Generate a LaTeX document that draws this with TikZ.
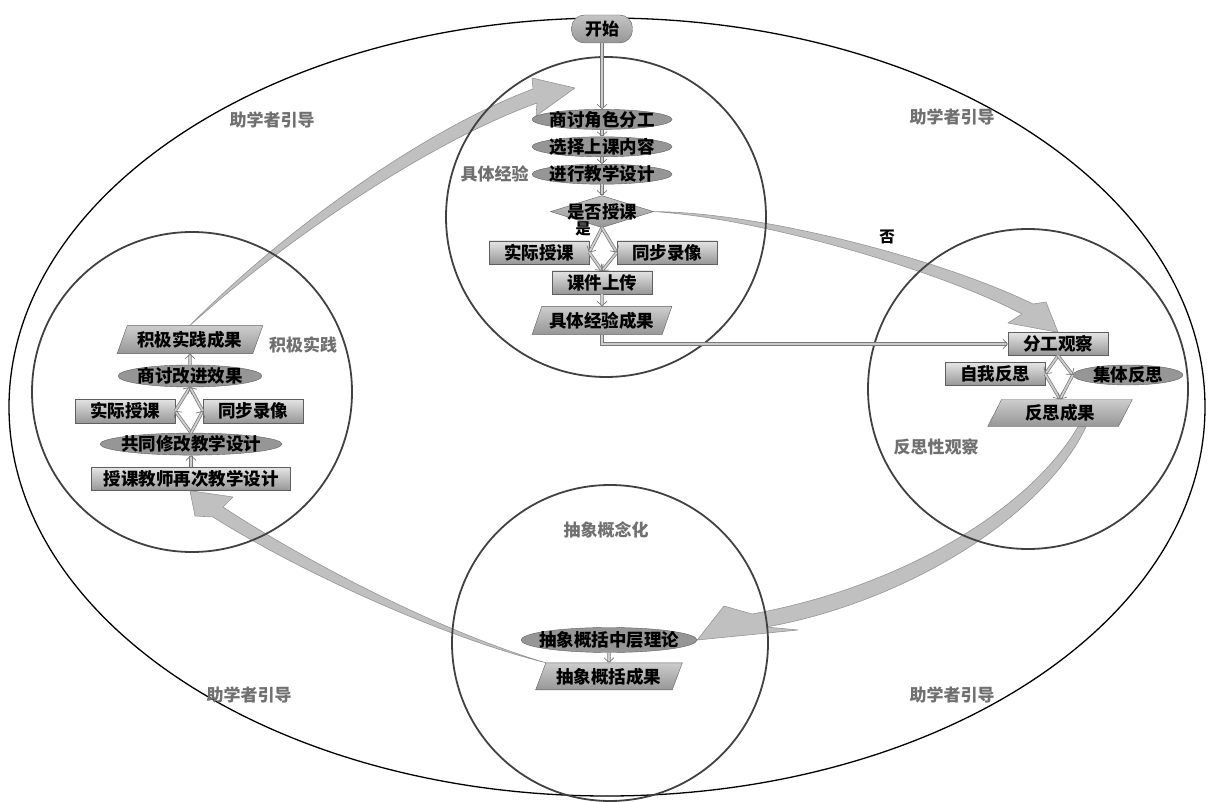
\documentclass[tikz,border=0pt]{standalone}
\usepackage{fontspec}
\setmainfont{Noto Sans CJK SC}
\usepackage{tikz}
\usetikzlibrary{shapes.geometric,arrows.meta,positioning,calc,backgrounds}
\usepackage{xcolor}
\definecolor{ringgray}{RGB}{65,65,65}
\definecolor{boxline}{RGB}{95,95,95}
\definecolor{boxtop}{RGB}{228,228,228}
\definecolor{boxbottom}{RGB}{150,150,150}
\definecolor{ovalgray}{RGB}{150,150,150}
\definecolor{arrowgray}{RGB}{192,192,192}
\definecolor{arrowline}{RGB}{150,150,150}
\definecolor{labelgray}{RGB}{112,112,112}
\definecolor{linkline}{RGB}{120,120,120}
\definecolor{linkfill}{RGB}{205,205,205}
\tikzstyle{flowbox} = [rectangle, draw=boxline, top color=boxtop, bottom color=boxbottom, minimum width=100pt, minimum height=23pt, inner sep=0pt, font=\bfseries\fontsize{17.5}{18}\selectfont]
\tikzstyle{ovalbox} = [ellipse, draw=boxline, fill=ovalgray, minimum width=140pt, minimum height=20pt, inner xsep=-15pt, inner ysep=-5pt, font=\bfseries\fontsize{17.5}{18}\selectfont]
\tikzstyle{databox} = [trapezium, trapezium left angle=63, trapezium right angle=117, trapezium stretches=true, draw=boxline, top color=boxtop!70!boxbottom, bottom color=boxbottom, minimum width=140pt, minimum height=28pt, inner xsep=2pt, inner ysep=0pt, font=\bfseries\fontsize{17.5}{18}\selectfont]
\tikzstyle{decidebox} = [diamond, aspect=3.2, draw=boxline, top color=boxtop!60!boxbottom, bottom color=boxbottom, minimum width=103pt, minimum height=32pt, inner xsep=-8pt, inner ysep=-6pt, font=\bfseries\fontsize{17.5}{18}\selectfont]
\tikzstyle{startbox} = [rectangle, rounded corners=13pt, draw=boxline, top color=boxtop!60!boxbottom, bottom color=boxbottom, minimum width=61pt, minimum height=28pt, inner sep=0pt, font=\bfseries\fontsize{17}{18}\selectfont]
\tikzstyle{phaselabel} = [text=labelgray, inner sep=0pt, font=\bfseries\fontsize{17}{18}\selectfont]
\tikzstyle{answer} = [inner sep=0pt, font=\bfseries\fontsize{15.5}{16}\selectfont]
\tikzstyle{flowarrow} = [draw=linkline, double=linkfill, double distance=1.8pt, line width=0.7pt, -{Straight Barb[length=4.5pt,width=10pt]}]
\tikzstyle{bigarrow} = [fill=arrowgray, draw=arrowline, line width=0.6pt, line join=round]
\tikzstyle{phasering} = [draw=ringgray, line width=1.8pt]
\tikzstyle{outerring} = [draw=black, line width=1.3pt]

\begin{document}
\begin{tikzpicture}[x=1pt,y=-1pt]
\useasboundingbox (0,0) rectangle (1208,802);

% Concrete experience
\node[startbox] (start) at (602,29) {开始};
\node[ovalbox, below=66pt of start] (role) {商讨角色分工};
\node[ovalbox, below=7pt of role] (choose) {选择上课内容};
\node[ovalbox, below=7pt of choose] (design) {进行教学设计};
\node[phaselabel, left=3pt of design] (lblconcrete) {具体经验};
\node[decidebox, below=11pt of design] (decide) {是否授课};
\node[flowbox, below=13pt of decide, xshift=-63pt] (teach) {实际授课};
\node[flowbox, below=13pt of decide, xshift=65pt] (video) {同步录像};
\node[flowbox, below=43pt of decide] (upload) {课件上传};
\node[databox, below=12pt of upload] (concres) {具体经验成果};
\node[answer] (yes) at (583,229) {是};
\node[answer] (no) at (887,237) {否};

% Reflective observation
\node[flowbox] (observe) at (1058,344) {分工观察};
\node[flowbox] (selfr) at (995,374) {自我反思};
\node[ovalbox, minimum width=110pt] (groupr) at (1128,375) {集体反思};
\node[databox, minimum width=145pt, minimum height=27pt] (reflres) at (1060,413) {反思成果};
\node[phaselabel] (lblreflect) at (936,447) {反思性观察};

% Abstract conceptualisation
\node[phaselabel] (lblabstract) at (606,530) {抽象概念化};
\node[ovalbox, minimum width=176pt, minimum height=25pt] (theory) at (609,640) {抽象概括中层理论};
\node[databox, minimum width=147pt, minimum height=27pt, below=10pt of theory] (abres) {抽象概括成果};

% Active experimentation
\node[flowbox, minimum width=199pt] (redesign) at (191,479) {授课教师再次教学设计};
\node[ovalbox, minimum width=182pt, minimum height=22pt, above=12pt of redesign] (codesign) {共同修改教学设计};
\node[flowbox, minimum height=24pt] (teach2) at (125,411) {实际授课};
\node[flowbox, minimum height=24pt] (video2) at (253,411) {同步录像};
\node[ovalbox, minimum width=144pt, minimum height=22pt] (improve) at (190,376) {商讨改进效果};
\node[databox, minimum width=146pt, above=11pt of improve] (practres) {积极实践成果};
\node[phaselabel] (lblactive) at (303,345) {积极实践};

% Facilitator labels
\node[phaselabel] (guidetl) at (272,120) {助学者引导};
\node[phaselabel] (guidetr) at (952,117) {助学者引导};
\node[phaselabel] (guidebl) at (249,695) {助学者引导};
\node[phaselabel] (guidebr) at (952,695) {助学者引导};

% Arrows
\draw[flowarrow] (start) -- (role);
\draw[flowarrow] (role) -- (choose);
\draw[flowarrow] (choose) -- (design);
\draw[flowarrow] (design) -- (decide);
\draw[flowarrow] (decide.south) -- (teach.east);
\draw[flowarrow] (decide.south) -- (video.west);
\draw[flowarrow] (teach.east) -- (upload.north);
\draw[flowarrow] (video.west) -- (upload.north);
\draw[flowarrow] (upload) -- (concres);
\draw[flowarrow] (concres.south) |- (observe.west);

\draw[flowarrow] (observe.south) -- (selfr.east);
\draw[flowarrow] (observe.south) -- (groupr.west);
\draw[flowarrow] (selfr.east) -- (reflres.north);
\draw[flowarrow] (groupr.west) -- (reflres.north);

\draw[flowarrow] (theory) -- (abres);

\draw[flowarrow] (redesign) -- (codesign);
\draw[flowarrow] (codesign.north) -- (teach2.east);
\draw[flowarrow] (codesign.north) -- (video2.west);
\draw[flowarrow] (teach2.east) -- (improve.south);
\draw[flowarrow] (video2.west) -- (improve.south);
\draw[flowarrow] (improve) -- (practres);

\coordinate (toptip) at (575,88);

\begin{scope}[on background layer]
% Cycle arrows
\filldraw[bigarrow] (practres.north) .. controls (288,226) and (428,128) .. (533,89) -- (532,78) -- (toptip) -- (536,116) -- (537,103) .. controls (432,141) and (292,234) .. (practres.north) -- cycle;
\filldraw[bigarrow] (decide.east) .. controls (760,212) and (941,259) .. (1033,304) -- (1046,302) -- (observe.north) -- (1008,323) -- (1022,314) .. controls (938,270) and (760,218) .. (decide.east) -- cycle;
\filldraw[bigarrow] ($(reflres.south)+(18,0)$) .. controls (1028,512) and (897,588) .. (752,614) -- (724,606) -- (theory.east) -- (798,630) -- (766,627) .. controls (903,603) and (1043,518) .. ($(reflres.south)+(26,0)$) -- cycle;
\filldraw[bigarrow] (abres.top left corner) .. controls (441,632) and (305,561) .. (223,507) -- (233,497) -- ($(redesign.south)+(-1,0)$) -- (195,516) -- (213,517) .. controls (295,569) and (439,636) .. (abres.top left corner) -- cycle;

% Phase circles
\draw[outerring] (607,407) ellipse[x radius=598pt, y radius=389pt];
\draw[phasering] (606,217) circle[radius=160pt];
\draw[phasering] (1028,389) circle[radius=160pt];
\draw[phasering] (192,392) circle[radius=160pt];
\draw[phasering] (610,643) circle[radius=158pt];
\end{scope}
\end{tikzpicture}
\end{document}
